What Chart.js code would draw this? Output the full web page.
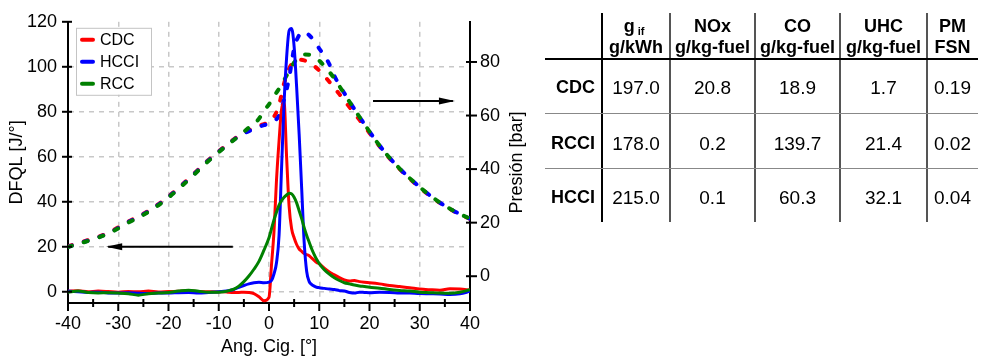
<!DOCTYPE html>
<html><head><meta charset="utf-8">
<script src="https://cdn.jsdelivr.net/npm/chart.js@4.4.1/dist/chart.umd.min.js"></script>
<style>
html,body{margin:0;padding:0;background:#fff;width:981px;height:362px;overflow:hidden;font-family:"Liberation Sans",Arial,sans-serif;color:#000;}
#wrap{position:absolute;left:0;top:0;width:540px;height:362px;}
#tbl{position:absolute;left:0;top:0;width:981px;height:362px;}
.ln{position:absolute;}
.tx{position:absolute;white-space:nowrap;transform:translate(-50%,-50%);line-height:1;}
.hd{font-weight:bold;font-size:18px;}
.bd{font-size:19px;}
.rl{position:absolute;white-space:nowrap;transform:translate(-100%,-50%);font-weight:bold;font-size:18px;line-height:1;}
</style></head>
<body>
<div id="wrap"><canvas id="c"></canvas></div>
<div id="tbl"></div>
<script>
// ---------- chart data ----------
const ang = [-40,-38,-36,-34,-32,-30,-28,-26,-24,-22,-20,-18,-16,-14,-12,-10,
  -9,-8,-7,-6,-5,-4,-3,-2,-1,
  0,0.5,1,1.5,2,2.5,3,3.5,4,4.5,5,5.5,6,6.5,7,7.5,8,8.5,9,9.5,10,
  11,12,13,14,15,16,17,18,19,20,
  22,24,26,28,30,32,34,36,38,40];
const cdcDFQL = [0.2,0.4,0,0.3,0.1,-0.2,0.1,0,0.3,-0.1,0.1,0.2,0.4,0.1,0,-0.1,
  0,-0.2,-0.3,-0.3,-0.2,-0.3,-0.8,-2.2,-4.0,
  -2.5,12,27,50,67,81,84,60,38,28,24,21,19,18,17,16.5,16,15,14,13,12.5,
  10.5,8.8,7.5,6.3,5.3,4.8,5.0,4.5,4.2,4.0,
  3.5,2.8,2.3,1.8,1.2,0.9,0.7,1.3,1.2,0.8];
const hcciDFQL = [0.3,0,-0.3,-0.2,-0.5,-0.6,-0.4,-0.7,-0.8,-0.5,-0.6,-0.4,-0.3,-0.6,-0.3,0,
  0.2,0.5,1.0,2.0,2.8,3.5,4.0,4.2,4.0,
  4.3,5,8,13,25,55,84,104,116,117,109,91,70,46,22,9,4.5,3.2,2.5,2,1.8,
  1.5,1.2,1.0,0.5,0.3,-0.3,-0.6,-0.2,-0.3,-0.4,
  -0.2,-0.3,-0.5,-0.6,-0.8,-0.9,-1.0,-1.2,-0.9,0.2];
const rccDFQL = [-0.2,0.3,-0.3,-0.5,-0.4,-0.6,-0.9,-1.5,-0.9,-0.6,-0.3,0.3,0.7,0.2,-0.2,-0.2,
  0,0.5,1.2,2.5,4.5,7,10,13.5,18.5,
  24,28,32,35.5,38.5,40.5,42,43,43.8,43.5,42,39.5,36,32.5,28.5,25,22,19,16.5,14.3,12.5,
  9.8,7.8,6.2,5,4,3.5,3,2.6,2.3,2,
  1.6,1.0,0.6,0.3,-0.2,-0.4,-0.6,-0.7,-0.2,0.9];

const angP = [-40,-36,-32,-28,-24,-20,-16,-12,-8,-6,-4,-3,-2,-1,
  0,1,2,3,4,5,6,7,8,9,10,11,12,13,14,15,16,17,18,19,20,
  22,24,26,28,30,32,34,36,38,40];
const cdcP = [11.2,13.5,16.2,20.4,24.4,29.8,36.4,43.5,49.7,52.5,54.5,55.3,56.2,56.8,
  57.5,59.5,64,72,77.5,80.2,80.9,80.6,79.8,78.5,76.8,74.8,72.6,70.4,68,65.6,63.2,60.8,58.4,56,53.5,
  48.5,44,40,36.4,33.1,30.1,27.4,25.1,23.1,21.4];
const hcciP = [11,13.3,16,20.2,24.2,29.6,36.2,43.3,49.5,52.3,54.2,55,55.8,56.4,
  57,58,60,66,74,85,90,91.2,90,87.8,85,82.4,79.2,74.8,71.4,68.3,65.3,62.4,59.5,56.8,54,
  48.8,44.2,40.2,36.6,33.3,30.2,27.5,25.2,23.2,21.5];
const rccP = [10.9,13.2,15.9,20.0,24.0,29.4,36.0,43.1,49.4,52.3,55.5,56.8,58.8,61.8,
  64.2,67.2,70,73.2,76.6,79.8,82,82.8,82.7,82,80.5,78.5,76.3,73.9,71,68.1,65.2,62.3,59.5,56.8,54,
  48.8,44.2,40.2,36.6,33.3,30.2,27.5,25.2,23.2,21.5];

const seriesLabels = ['CDC','HCCI','RCC'];
const seriesColors = ['#ff0000','#0000ff','#008000'];
const yTicksLeft = [0,20,40,60,80,100,120];
const yTicksRight = [0,20,40,60,80];
const xTicksMajor = [-40,-30,-20,-10,0,10,20,30,40];
const xTicksMinor = [-35,-25,-15,-5,5,15,25,35];
const arrowLeft = {from:-7.2, to:-32, level:20};      // DFQL axis
const arrowRight = {from:20.7, to:36.6, level:65.4};  // pressure axis

// ---------- table data ----------
const rowLabels = ['CDC','RCCI','HCCI'];
const colHeads = [['g','if','g/kWh'],['NOx','','g/kg-fuel'],['CO','','g/kg-fuel'],['UHC','','g/kg-fuel'],['PM','','FSN']];
const gif = [197.0,178.0,215.0];
const nox = [20.8,0.2,0.1];
const co = [18.9,139.7,60.3];
const uhc = [1.7,21.4,32.1];
const pm = [0.19,0.02,0.04];
const decimals = [1,1,1,1,2];

const FONT = '"Liberation Sans", Arial, sans-serif';
function pts(xs, ys){ return xs.map((x,i)=>({x:x,y:ys[i]})); }

const solid = (i, data, order) => ({label:seriesLabels[i], data:data, borderColor:seriesColors[i], backgroundColor:seriesColors[i],
  borderWidth:3, pointRadius:0, cubicInterpolationMode:'monotone', yAxisID:'y', order:order});
const dashed = (i, data, order) => ({label:seriesLabels[i]+' p', data:data, borderColor:seriesColors[i], backgroundColor:seriesColors[i],
  borderWidth:4, borderDash:[4,12.5], borderCapStyle:'round', pointRadius:0, cubicInterpolationMode:'monotone', yAxisID:'y2', order:order});

const overlay = {
  id:'overlay',
  afterDraw(chart){
    const ctx = chart.ctx, xs = chart.scales.x, yl = chart.scales.y, yr = chart.scales.y2, ca = chart.chartArea;
    ctx.save();
    ctx.strokeStyle = '#000'; ctx.lineWidth = 2;
    const seg=(x1,y1,x2,y2)=>{ctx.beginPath();ctx.moveTo(x1,y1);ctx.lineTo(x2,y2);ctx.stroke();};
    yTicksLeft.forEach(v=>{const y=yl.getPixelForValue(v); seg(ca.left-6,y,ca.left+4,y);});
    yTicksRight.forEach(v=>{const y=yr.getPixelForValue(v); seg(ca.right-4,y,ca.right+7,y);});
    xTicksMajor.forEach(v=>{const x=xs.getPixelForValue(v); seg(x,ca.bottom-1,x,ca.bottom+8);});
    xTicksMinor.forEach(v=>{const x=xs.getPixelForValue(v); seg(x,ca.bottom-4,x,ca.bottom+4);});
    // arrows
    const arrow=(x1,x2,y)=>{
      ctx.lineWidth=2; seg(x1,y,x2,y);
      const d = x2<x1 ? -1 : 1;
      ctx.beginPath(); ctx.moveTo(x2+d*2,y); ctx.lineTo(x2-d*14,y-3.5); ctx.lineTo(x2-d*14,y+3.5); ctx.closePath(); ctx.fillStyle='#000'; ctx.fill();
    };
    arrow(xs.getPixelForValue(arrowLeft.from), xs.getPixelForValue(arrowLeft.to), yl.getPixelForValue(arrowLeft.level));
    arrow(xs.getPixelForValue(arrowRight.from), xs.getPixelForValue(arrowRight.to), yr.getPixelForValue(arrowRight.level));
    // legend
    const lx = ca.left+8, ly = ca.top+6;
    ctx.fillStyle='#fff'; ctx.fillRect(lx,ly,75,67);
    ctx.strokeStyle='#c4c4c4'; ctx.lineWidth=1; ctx.strokeRect(lx+0.5,ly+0.5,75,67);
    ctx.font = '16px '+FONT; ctx.textBaseline='middle'; ctx.textAlign='left';
    seriesLabels.forEach((lab,i)=>{
      const yy = ly+12+i*22;
      ctx.strokeStyle=seriesColors[i]; ctx.lineWidth=4; ctx.lineCap='round';
      seg(lx+6,yy,lx+17,yy);
      ctx.fillStyle='#000'; ctx.fillText(lab, lx+24, yy+1);
    });
    // right axis title (reads bottom-to-top)
    ctx.save();
    ctx.translate(ca.right+47, (ca.top+ca.bottom)/2);
    ctx.rotate(-Math.PI/2);
    ctx.font='18px '+FONT; ctx.textAlign='center'; ctx.textBaseline='middle'; ctx.fillStyle='#000';
    ctx.fillText('Presión [bar]',0,0);
    ctx.restore();
    ctx.restore();
  }
};

const gridDash = {color:'#000', width:2, dash:[5,5]};
new Chart(document.getElementById('c'), {
  type:'line',
  data:{datasets:[
    solid(2, pts(ang, rccDFQL), 0),
    solid(1, pts(ang, hcciDFQL), 1),
    solid(0, pts(ang, cdcDFQL), 2),
    dashed(2, pts(angP, rccP), 3),
    dashed(1, pts(angP, hcciP), 4),
    dashed(0, pts(angP, cdcP), 5)
  ]},
  options:{
    responsive:true, maintainAspectRatio:false, animation:false, devicePixelRatio:1,
    layout:{padding:{top:14,left:0,right:0,bottom:0}},
    plugins:{legend:{display:false}, tooltip:{enabled:false}},
    scales:{
      x:{type:'linear', min:-40, max:40,
        afterBuildTicks:s=>{s.ticks = xTicksMajor.map(v=>({value:v}));},
        afterFit:s=>{s.height=59;},
        grid:{color:'#c8c8c8', lineWidth:1.5, drawTicks:false},
        border:{color:'#000', width:2, dash:[5,5]},
        ticks:{padding:10, color:'#000', font:{family:FONT,size:18}},
        title:{display:true, text:'Ang. Cig. [°]', color:'#000', font:{family:FONT,size:18}, padding:{top:0,bottom:4}}
      },
      y:{type:'linear', position:'left', min:-5, max:120,
        afterBuildTicks:s=>{s.ticks = yTicksLeft.map(v=>({value:v}));},
        afterFit:s=>{s.width=68;},
        grid:{color:c=>c.tick && c.tick.value===120 ? 'rgba(0,0,0,0)' : '#c8c8c8', lineWidth:1.5, drawTicks:false},
        border:{color:'#000', width:2, dash:[5,5]},
        ticks:{padding:11, color:'#000', font:{family:FONT,size:18}},
        title:{display:true, text:'DFQL [J/°]', color:'#000', font:{family:FONT,size:18}, padding:{top:6,bottom:0}}
      },
      y2:{type:'linear', position:'right', min:-10, max:95,
        afterBuildTicks:s=>{s.ticks = yTicksRight.map(v=>({value:v}));},
        afterFit:s=>{s.width=70;},
        grid:{drawOnChartArea:false, drawTicks:false},
        border:{color:'#000', width:2},
        ticks:{padding:10, color:'#000', font:{family:FONT,size:18}}
      }
    }
  },
  plugins:[overlay]
});

// ---------- table ----------
const T = document.getElementById('tbl');
const colEdges = [545,602,670,755,840,927,978];
const rowEdges = [13,59,113,168,222];
function ln(l,t,w,h,c){const d=document.createElement('div');d.className='ln';d.style.cssText=`left:${l}px;top:${t}px;width:${w}px;height:${h}px;background:${c};`;T.appendChild(d);}
ln(colEdges[1]-1, rowEdges[0], 2, rowEdges[4]-rowEdges[0], '#000');
for(let i=2;i<=5;i++) ln(colEdges[i]-0.75, rowEdges[0], 1.5, rowEdges[4]-rowEdges[0], '#555');
ln(colEdges[0], rowEdges[1]-1, colEdges[6]-colEdges[0], 2, '#000');
ln(colEdges[0], rowEdges[2]-0.5, colEdges[6]-colEdges[0], 1, '#888');
ln(colEdges[0], rowEdges[3]-0.5, colEdges[6]-colEdges[0], 1, '#888');
function tx(html,x,y,cls){const d=document.createElement('div');d.className=cls;d.style.left=x+'px';d.style.top=y+'px';d.innerHTML=html;T.appendChild(d);}
const headY1 = 26, headY2 = 47;
colHeads.forEach((h,i)=>{
  const cx = (colEdges[i+1]+colEdges[i+2])/2;
  const top = h[1] ? `${h[0]}<span style="font-size:11px;position:relative;top:3px;margin-left:3px">${h[1]}</span>` : h[0];
  tx(top, cx-(h[1]?2:0), headY1, 'tx hd');
  tx(h[2], cx, headY2, 'tx hd');
});
const rowY = [87,143,197];
const cols = [gif,nox,co,uhc,pm];
rowLabels.forEach((lab,r)=>{
  tx(lab, 595, rowY[r], 'rl');
  cols.forEach((arr,c)=>{
    const cx = (colEdges[c+1]+colEdges[c+2])/2;
    tx(arr[r].toFixed(decimals[c]), cx, rowY[r], 'tx bd');
  });
});
</script>
</body></html>
